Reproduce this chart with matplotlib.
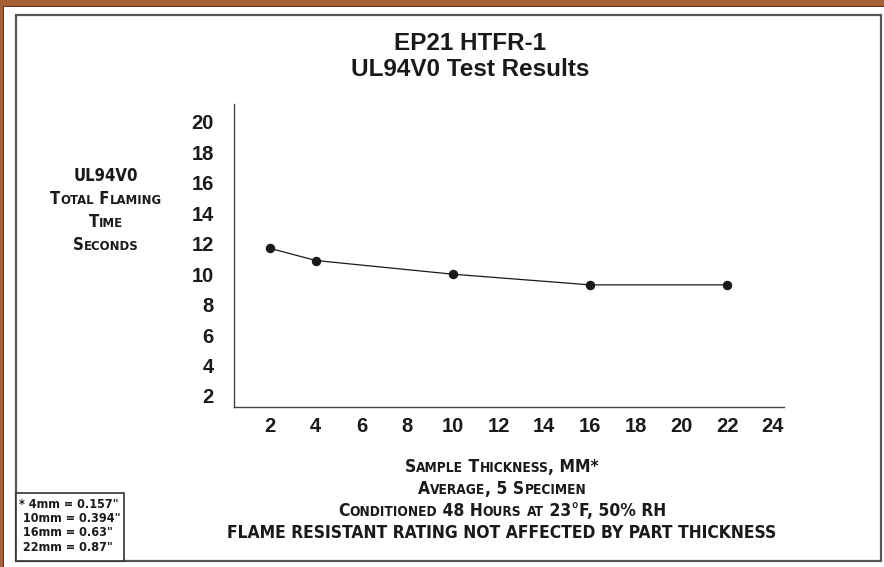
import matplotlib
matplotlib.use("Agg")
import matplotlib.pyplot as plt
from matplotlib.patches import Rectangle
from matplotlib.offsetbox import TextArea, HPacker, AnnotationBbox

# ---- data ----
thickness = [2, 4, 10, 16, 22]
flame_time = [11.7, 10.9, 10.0, 9.3, 9.3]
x_ticks = [2, 4, 6, 8, 10, 12, 14, 16, 18, 20, 22, 24]
y_ticks = [2, 4, 6, 8, 10, 12, 14, 16, 18, 20]
title_lines = ["EP21 HTFR-1", "UL94V0 Test Results"]
ylabel_lines = ["UL94V0", "Total Flaming", "Time", "Seconds"]
xlabel_lines = ["Sample Thickness, MM*", "Average, 5 Specimen",
                "Conditioned 48 Hours at 23°F, 50% RH",
                "FLAME RESISTANT RATING NOT AFFECTED BY PART THICKNESS"]
note_lines = ['* 4mm = 0.157"', ' 10mm = 0.394"', ' 16mm = 0.63"', ' 22mm = 0.87"']

W, H = 884, 567
NARROW = ["DejaVu Sans"]
BOLDF = ["Liberation Sans", "DejaVu Sans"]
INK = "#1a1a1a"

fig = plt.figure(figsize=(W / 100, H / 100), dpi=100)
fig.patch.set_facecolor("#A65E34")

def px_rect(x0, y0, x1, y1, z=-5, **kw):
    r = Rectangle((x0 / W, 1 - y1 / H), (x1 - x0) / W, (y1 - y0) / H,
                  transform=fig.transFigure, zorder=z, **kw)
    fig.patches.append(r)

px_rect(3, 6, 884, 567, z=-10, facecolor="#5a3320", edgecolor="none")
px_rect(4, 7, 884, 567, z=-9, facecolor="white", edgecolor="none")
px_rect(16, 15, 881, 561, z=-8, facecolor="none", edgecolor="#555555", linewidth=1.6)

ax = fig.add_axes([234 / W, 1 - 407 / H, (784 - 234) / W, (407 - 104) / H])
ax.set_zorder(2)
ax.set_facecolor("none")
ax.plot(thickness, flame_time, color=INK, linewidth=0.9, marker="o",
        markersize=5.8, markerfacecolor=INK, markeredgecolor=INK)
ax.set_xlim(0.424, 24.49)
ax.set_ylim(1.277, 21.18)
ax.set_xticks(x_ticks)
ax.set_yticks(y_ticks)
ax.set_xticklabels([str(v) for v in x_ticks], fontsize=14.5, fontweight="bold",
                   family=BOLDF, color=INK)
ax.set_yticklabels([str(v) for v in y_ticks], fontsize=14.5, fontweight="bold",
                   family=BOLDF, color=INK)
ax.tick_params(axis="both", length=0)
ax.tick_params(axis="y", pad=14.5)
ax.tick_params(axis="x", pad=7)
for s in ["top", "right"]:
    ax.spines[s].set_visible(False)
for s in ["left", "bottom"]:
    ax.spines[s].set_color("#444444")
    ax.spines[s].set_linewidth(1.0)

# title
for i, line in enumerate(title_lines):
    fig.text(470 / W, 1 - (43 + 27 * i) / H, line, ha="center", va="center",
             fontsize=17.5, fontweight="bold", family=BOLDF, color=INK)

def small_caps(text, x, y, big=12.5, small=9.8):
    runs = []
    for ch in text:
        is_small = ch.islower()
        c = ch.upper()
        if runs and runs[-1][0] == is_small:
            runs[-1][1] += c
        else:
            runs.append([is_small, c])
    children = []
    for is_small, s in runs:
        children.append(TextArea(s, textprops=dict(fontsize=small if is_small else big,
                                                   fontweight="bold", family=NARROW,
                                                   fontstretch="condensed",
                                                   color=INK)))
    pack = HPacker(children=children, align="baseline", pad=0, sep=0)
    ab = AnnotationBbox(pack, (x, H - y), xycoords="figure pixels", frameon=False,
                        box_alignment=(0.5, 0.5), pad=0)
    fig.add_artist(ab)

for i, line in enumerate(ylabel_lines):
    small_caps(line, 106, 176 + 23 * i, big=12, small=9.4)

for i, line in enumerate(xlabel_lines):
    small_caps(line, 502, 467 + 22 * i)

# note box
px_rect(16, 493, 124, 561, z=3, facecolor="white", edgecolor="#333333", linewidth=1.2)
for i, line in enumerate(note_lines):
    fig.text(19 / W, 1 - (504 + 14.5 * i) / H, line, ha="left", va="center",
             fontsize=9, fontweight="bold", family=NARROW, fontstretch="condensed",
             color=INK, zorder=4)

fig.savefig("out.png", dpi=100, facecolor=fig.get_facecolor())
